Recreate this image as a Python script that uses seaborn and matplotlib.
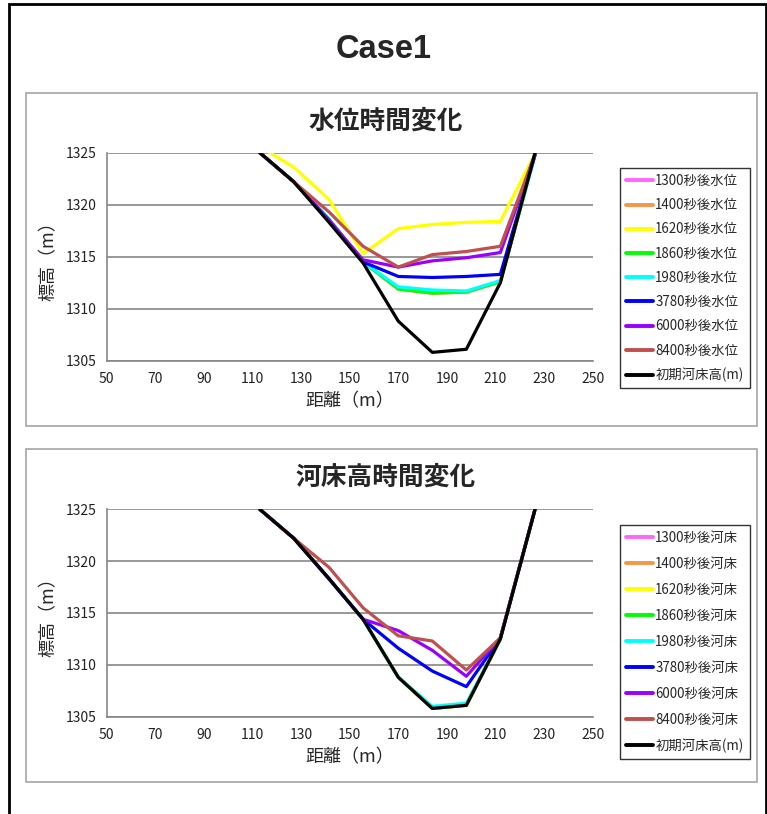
import matplotlib
matplotlib.use("Agg")
import matplotlib.pyplot as plt
import numpy as np
import pandas as pd
import seaborn as sns
from matplotlib.patches import Rectangle

# distance (m) of each cross-section point
distance = [113, 127, 141.5, 155.5, 170, 184, 198, 212, 226.5]

# initial bed elevation (m)
bed_init = [1325.0, 1322.2, 1318.3, 1314.4, 1308.8, 1305.8, 1306.1, 1312.5, 1325.2]

# water level (m) at each time
wl_1300 = [1325.0, 1322.2, 1318.6, 1314.5, 1311.9, 1311.5, 1311.6, 1312.6, 1325.0]
wl_1400 = [1325.0, 1322.2, 1318.6, 1314.5, 1311.9, 1311.5, 1311.6, 1312.6, 1325.0]
wl_1620 = [1325.6, 1323.6, 1320.5, 1315.3, 1317.7, 1318.1, 1318.3, 1318.4, 1325.0]
wl_1860 = [1325.0, 1322.2, 1318.6, 1314.5, 1311.9, 1311.5, 1311.6, 1312.6, 1325.0]
wl_1980 = [1325.0, 1322.2, 1318.6, 1314.5, 1312.1, 1311.8, 1311.7, 1312.7, 1325.0]
wl_3780 = [1325.0, 1322.2, 1318.5, 1314.5, 1313.1, 1313.0, 1313.1, 1313.3, 1325.0]
wl_6000 = [1325.0, 1322.2, 1318.5, 1314.7, 1314.0, 1314.6, 1314.9, 1315.4, 1325.0]
wl_8400 = [1325.0, 1322.2, 1319.3, 1316.0, 1314.0, 1315.2, 1315.5, 1316.0, 1325.0]

# bed elevation (m) at each time
bed_1300 = [1325.0, 1322.2, 1318.3, 1314.4, 1308.8, 1305.8, 1306.1, 1312.5, 1325.2]
bed_1400 = [1325.0, 1322.2, 1318.3, 1314.4, 1308.8, 1305.8, 1306.1, 1312.5, 1325.2]
bed_1620 = [1325.0, 1322.2, 1318.3, 1314.4, 1308.8, 1305.8, 1306.1, 1312.5, 1325.2]
bed_1860 = [1325.0, 1322.2, 1318.3, 1314.4, 1308.8, 1305.8, 1306.1, 1312.5, 1325.2]
bed_1980 = [1325.0, 1322.2, 1318.3, 1314.4, 1308.8, 1306.0, 1306.3, 1312.5, 1325.2]
bed_3780 = [1325.0, 1322.2, 1318.3, 1314.4, 1311.6, 1309.4, 1307.9, 1312.6, 1325.2]
bed_6000 = [1325.0, 1322.2, 1318.3, 1314.4, 1313.3, 1311.4, 1308.9, 1312.6, 1325.2]
bed_8400 = [1325.0, 1322.2, 1319.4, 1315.5, 1312.8, 1312.3, 1309.5, 1312.6, 1325.2]

times = ["1300", "1400", "1620", "1860", "1980", "3780", "6000", "8400"]
init_label = "初期河床高(m)"
colors = ["#FF66FF", "#F79646", "#FFFF00", "#00FF00", "#00FFFF",
          "#0000FF", "#9900FF", "#C0504D", "#000000"]


def long_table(series, suffix):
    rows = []
    for name, vals in series:
        label = name if name == init_label else f"{name}秒後{suffix}"
        for d, v in zip(distance, vals):
            rows.append({"distance": d, "elev": v, "series": label})
    return pd.DataFrame(rows)


wl_df = long_table(
    list(zip(times, [wl_1300, wl_1400, wl_1620, wl_1860, wl_1980,
                     wl_3780, wl_6000, wl_8400])) + [(init_label, bed_init)],
    "水位")
bed_df = long_table(
    list(zip(times, [bed_1300, bed_1400, bed_1620, bed_1860, bed_1980,
                     bed_3780, bed_6000, bed_8400])) + [(init_label, bed_init)],
    "河床")

sns.set_theme(style="white")
plt.rcParams["font.family"] = ["Noto Sans CJK JP", "DejaVu Sans"]

W, H = 767, 814
fig = plt.figure(figsize=(W / 100, H / 100), dpi=100)


def fx(px):
    return px / W


def fy(py):
    return 1 - py / H


# outer frame and panel frames
fig.patches.append(Rectangle((fx(9), fy(830)), fx(757), fy(4) - fy(830),
                             transform=fig.transFigure, fill=False,
                             edgecolor="black", linewidth=2))
for top, bottom in [(93, 426), (449, 782)]:
    fig.patches.append(Rectangle((fx(26), fy(bottom)), fx(731), fy(top) - fy(bottom),
                                 transform=fig.transFigure, fill=False,
                                 edgecolor="#A6A6A6", linewidth=1.2))

fig.text(fx(384), fy(50), "Case1", ha="center", va="center",
         fontsize=23.5, fontweight="bold", family=["Liberation Sans"])

panels = [
    (wl_df, "水位時間変化", 152.7, 360.7, 121, 168, 25.0),
    (bed_df, "河床高時間変化", 509.3, 716.7, 477, 525, 26.7),
]
grey = "#868686"
for df, title, top, bottom, title_y, leg_top, spacing in panels:
    ax = fig.add_axes([fx(106.7), fy(bottom), fx(592.7) - fx(106.7), fy(top) - fy(bottom)])
    order = list(dict.fromkeys(df["series"]))
    sns.lineplot(data=df, x="distance", y="elev", hue="series", hue_order=order,
                 palette=colors, sort=False, linewidth=2.3, ax=ax)
    ax.set_xlim(50, 250)
    ax.set_ylim(1305, 1325)
    ax.set_xticks(np.arange(50, 251, 20))
    ax.set_yticks(np.arange(1305, 1326, 5))
    ax.grid(axis="y", color=grey, linewidth=1.2)
    ax.grid(axis="x", visible=False)
    ax.set_axisbelow(True)
    for side in ["top", "right"]:
        ax.spines[side].set_visible(False)
    for side in ["left", "bottom"]:
        ax.spines[side].set_color(grey)
        ax.spines[side].set_linewidth(1.2)
    ax.tick_params(axis="both", direction="out", length=4, width=1, color=grey,
                   labelsize=10, labelcolor="#222222", pad=3)
    ax.tick_params(axis="x", pad=4)
    ax.set_xlabel("距離（m）", fontsize=13, labelpad=5)
    ax.set_ylabel("標高（m）", fontsize=13, labelpad=6)
    fig.text(fx(386), fy(title_y), title, ha="center", va="center",
             fontsize=18.5, fontweight="bold")
    leg = ax.legend(loc="upper left", bbox_to_anchor=(fx(620), fy(leg_top)),
                    bbox_transform=fig.transFigure, borderaxespad=0,
                    frameon=True, fancybox=False, fontsize=9.6,
                    handlelength=2.0, handletextpad=0.2,
                    labelspacing=(spacing - 14.8) / 13.3, borderpad=0.45)
    leg.get_frame().set_edgecolor("black")
    leg.get_frame().set_linewidth(1)
    for line in leg.get_lines():
        line.set_linewidth(2.8)

fig.savefig("out.png", dpi=100)
